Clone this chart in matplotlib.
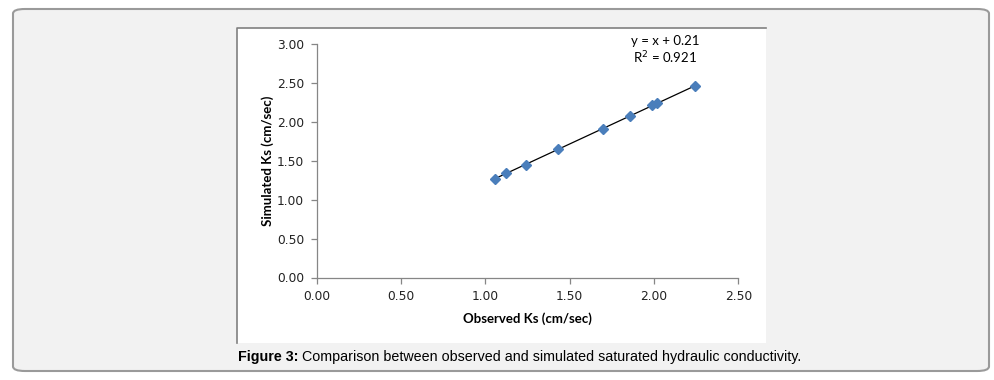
import matplotlib.pyplot as plt
from matplotlib.patches import FancyBboxPatch, Rectangle
import numpy as np

observed = [1.06, 1.12, 1.24, 1.43, 1.70, 1.86, 1.99, 2.02, 2.24]
simulated = [1.27, 1.34, 1.45, 1.65, 1.91, 2.07, 2.22, 2.24, 2.46]
ticks = [0.00, 0.50, 1.00, 1.50, 2.00, 2.50]
yticks = [0.00, 0.50, 1.00, 1.50, 2.00, 2.50, 3.00]

W, H = 995, 380
fig = plt.figure(figsize=(W / 100, H / 100), dpi=100)
fig.patch.set_facecolor('white')

# grey rounded panel
panel = FancyBboxPatch((13 / W, 9 / H), 976 / W, 362 / H,
                       boxstyle='round,pad=0,rounding_size=0.012',
                       transform=fig.transFigure, facecolor='#f2f2f2',
                       edgecolor='#9a9a9a', linewidth=1.5, zorder=0)
fig.patches.append(panel)

# white chart area
cx0, cx1, cy0, cy1 = 237.5, 765.7, 27.5, 343.3
fig.patches.append(Rectangle((cx0 / W, 1 - cy1 / H), (cx1 - cx0) / W, (cy1 - cy0) / H,
                             transform=fig.transFigure, facecolor='white',
                             edgecolor='none', zorder=1))
fig.lines.append(plt.Line2D([cx0 / W, cx0 / W, cx1 / W], [1 - cy1 / H, 1 - cy0 / H, 1 - cy0 / H],
                            transform=fig.transFigure, color='#808080', lw=1.2, zorder=2))

ax = fig.add_axes([316.5 / W, 1 - 277.5 / H, (738.5 - 316.5) / W, (277.5 - 44) / H])
ax.set_facecolor('none')
ax.set_zorder(3)

slope, intercept = np.polyfit(observed, simulated, 1)
xs = np.array([min(observed), max(observed)])
ax.plot(xs, slope * xs + intercept, color='black', lw=0.9, zorder=2)
ax.plot(observed, simulated, 'D', color='#4a7ebb', ms=5.5, mec='#4a7ebb', zorder=3)

ax.set_xlim(0, 2.5)
ax.set_ylim(0, 3.0)
ax.set_xticks(ticks)
ax.set_yticks(yticks)
ax.set_xticklabels(['%.2f' % t for t in ticks])
ax.set_yticklabels(['%.2f' % t for t in yticks])
for s in ['top', 'right']:
    ax.spines[s].set_visible(False)
for s in ['left', 'bottom']:
    ax.spines[s].set_color('#868686')
    ax.spines[s].set_linewidth(0.9)
ax.tick_params(direction='out', length=4, width=0.9, color='#868686',
               labelsize=8.8, labelcolor='#222222', pad=5)

ax.set_xlabel('Observed Ks (cm/sec)', fontsize=9.5, fontweight='bold',
              family='Lato', labelpad=7)
ax.set_ylabel('Simulated Ks (cm/sec)', fontsize=9.5, fontweight='bold',
              family='Lato', labelpad=2)

ax.text(665 / W, 1 - 40.7 / H, 'y = x + 0.21', transform=fig.transFigure,
        ha='center', va='center', fontsize=9.5, family='Lato', zorder=5)
ax.text(665 / W, 1 - 57.3 / H, 'R$^2$ = 0.921', transform=fig.transFigure,
        ha='center', va='center', fontsize=9.5, family='Lato', zorder=5)

t1 = fig.text(238 / W, 1 - 357 / H, 'Figure 3:', fontsize=10.3, fontweight='bold',
              family='Liberation Sans', va='center', ha='left')
ax.annotate(' Comparison between observed and simulated saturated hydraulic conductivity.',
            xy=(1, 0.5), xycoords=t1, va='center', ha='left',
            fontsize=10.3, family='Liberation Sans')

fig.savefig('out.png', dpi=100, facecolor='white')
